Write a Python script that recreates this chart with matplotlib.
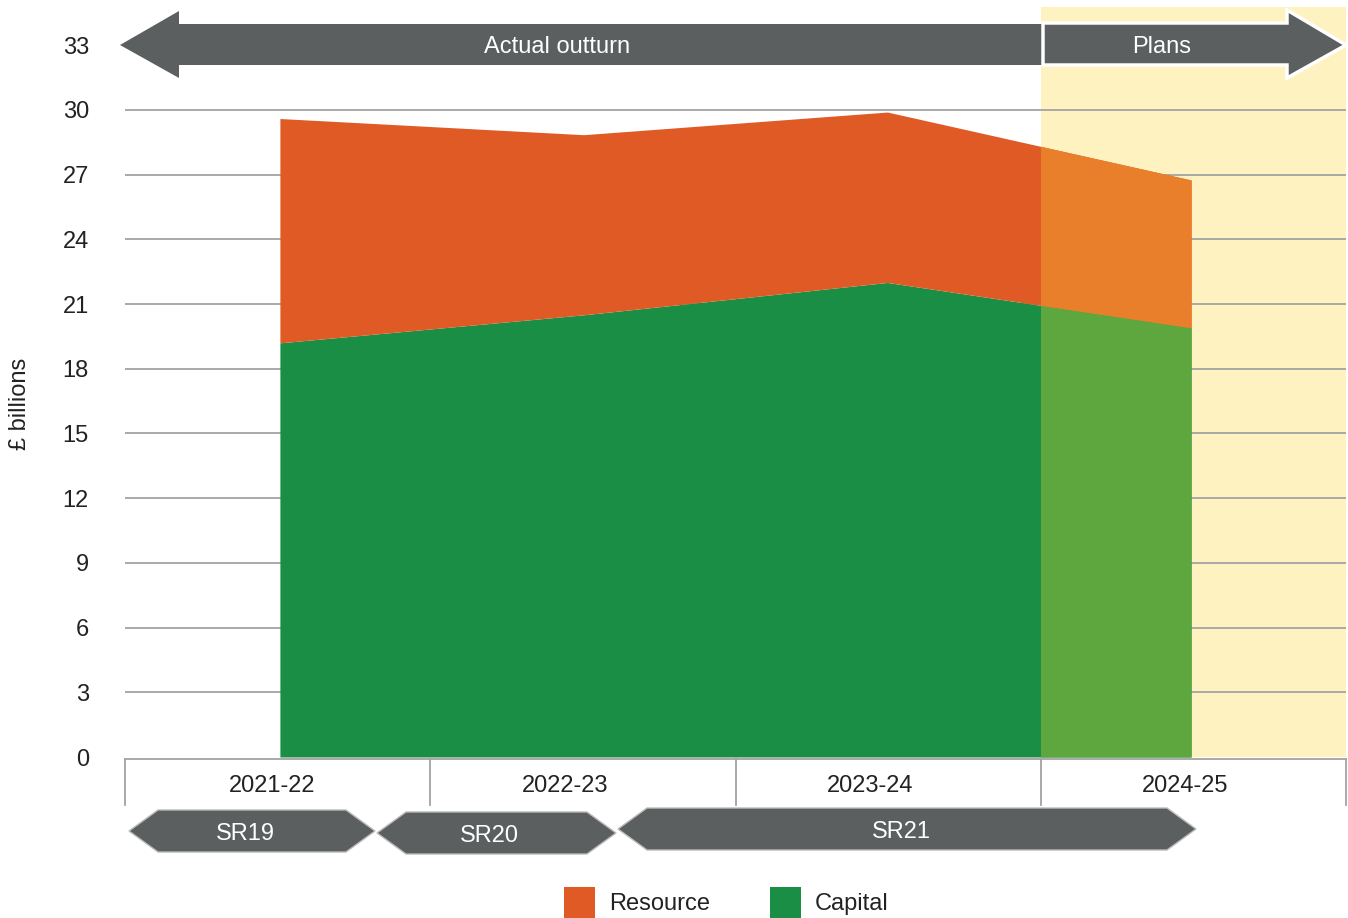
import matplotlib
matplotlib.use('Agg')
import matplotlib.pyplot as plt
from matplotlib.patches import Polygon, Rectangle

plt.rcParams['font.family'] = ['Liberation Sans', 'DejaVu Sans']

# data (£ billions)
years = ['2021-22', '2022-23', '2023-24', '2024-25']
capital = [19.2, 20.5, 22.0, 19.9]
resource = [10.4, 8.35, 7.9, 6.85]
series_names = ['Resource', 'Capital']
y_ticks = [0, 3, 6, 9, 12, 15, 18, 21, 24, 27, 30, 33]
spending_reviews = ['SR19', 'SR20', 'SR21']

col_res = '#E05A25'
col_cap = '#1B8E45'
col_res_plan = '#E97F2A'
col_cap_plan = '#5EA73E'
col_yellow = '#FEF3C0'
col_grey = '#5B5F5F'
col_grid = '#A3A3A3'
col_text = '#222222'
fs = 17

W, H = 1348, 918
fig = plt.figure(figsize=(W / 100, H / 100), dpi=100)
ax = fig.add_axes([125 / W, (H - 757) / H, 1221 / W, 750 / H])

x = list(range(len(years)))
total = [c + r for c, r in zip(capital, resource)]

ax.set_xlim(-0.51, 3.51)
ax.set_ylim(0, 34.77)

# plans shading
ax.axvspan(2.507, 3.51, color=col_yellow, zorder=0, lw=0)
for t in y_ticks[1:-1]:
    ax.axhline(t, color=col_grid, lw=1.3, zorder=1)

ax.fill_between(x, 0, capital, color=col_cap, lw=0, zorder=2)
ax.fill_between(x, capital, total, color=col_res, lw=0, zorder=2)

# lighter colours over the plans year
clip = Rectangle((2.507, 0), 1.0, 40, transform=ax.transData)
p1 = ax.fill_between(x, 0, capital, color=col_cap_plan, lw=0, zorder=3)
p2 = ax.fill_between(x, capital, total, color=col_res_plan, lw=0, zorder=3)
p1.set_clip_path(clip)
p2.set_clip_path(clip)

ax.set_yticks(y_ticks)
ax.set_yticklabels([str(t) for t in y_ticks], fontsize=fs, color=col_text)
ax.tick_params(axis='y', length=0, pad=26)
ax.set_xticks([])
for s in ax.spines.values():
    s.set_visible(False)

# overlay in pixel coordinates for the decorations
ov = fig.add_axes([0, 0, 1, 1], zorder=5)
ov.set_xlim(0, W)
ov.set_ylim(H, 0)
ov.axis('off')
ov.patch.set_alpha(0)

# top arrows
ov.add_patch(Polygon([(120, 45), (179, 11), (179, 24), (1043, 24), (1043, 65),
                      (179, 65), (179, 78)], closed=True, fc=col_grey, ec='none'))
ov.add_patch(Polygon([(1043, 23), (1287, 23), (1287, 10), (1346, 45), (1287, 78),
                      (1287, 65), (1043, 65)], closed=True, fc=col_grey, ec='white', lw=2.5))
ov.text(557, 47, 'Actual outturn', ha='center', va='center', fontsize=fs, color='white')
ov.text(1162, 47, 'Plans', ha='center', va='center', fontsize=fs, color='white')

ov.text(20, 404, '£ billions', rotation=90, ha='center', va='center', fontsize=fs, color=col_text)

# category boxes under the axis
ov.plot([125, 1346], [759, 759], color=col_grid, lw=1.3)
for px in [125, 430, 736, 1041, 1346]:
    ov.plot([px, px], [759, 805], color=col_grid, lw=1.3)
label_px = [272, 565, 870, 1185]
for yr, px in zip(years, label_px):
    ov.text(px, 786, yr, ha='center', va='center', fontsize=fs, color=col_text)

# spending review hexagons
sr_boxes = [(129, 375, 831), (377, 616, 833), (618, 1196, 829)]
sr_label_px = [245, 489, 901]
for name, (x0, x1, yc), lx in zip(spending_reviews, sr_boxes, sr_label_px):
    hw = 29
    hh = 21
    ov.add_patch(Polygon([(x0, yc), (x0 + hw, yc - hh), (x1 - hw, yc - hh), (x1, yc),
                          (x1 - hw, yc + hh), (x0 + hw, yc + hh)], closed=True,
                         fc=col_grey, ec='#BBBBBB', lw=1))
    ov.text(lx, yc + 3, name, ha='center', va='center', fontsize=fs, color='white')

# legend
for name, col, lx in zip(series_names, [col_res, col_cap], [564, 770]):
    ov.add_patch(Rectangle((lx, 887), 31, 31, fc=col, ec='none'))
    ov.text(lx + 45, 904, name, ha='left', va='center', fontsize=fs, color=col_text)

fig.savefig('out.png', dpi=100)
